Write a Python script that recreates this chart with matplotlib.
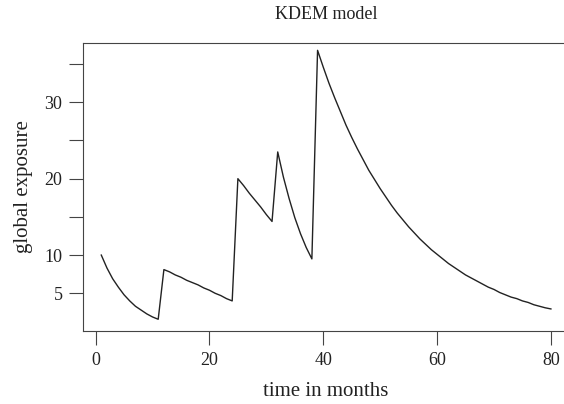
import matplotlib
matplotlib.use("Agg")
import matplotlib.pyplot as plt
from matplotlib.ticker import FixedLocator, NullFormatter

plt.rcParams['font.family'] = ['Liberation Serif', 'DejaVu Serif']

# time axis (months 1..80)
months = list(range(1, 81))

# global exposure, month by month
exposure = [
    10.0, 8.3, 6.9, 5.8, 4.8, 4.0, 3.3, 2.8, 2.3, 1.9, 1.6,          # 1-11
    8.1, 7.8, 7.4, 7.1, 6.7, 6.4, 6.1, 5.7, 5.4, 5.0, 4.7, 4.3, 4.0,  # 12-24
    20.0, 19.1, 18.1, 17.2, 16.3, 15.3, 14.4,                        # 25-31
    23.5, 20.2, 17.4, 14.9, 12.8, 11.0, 9.5,                         # 32-38
    36.8, 34.6, 32.5, 30.6, 28.8, 27.0, 25.4, 23.9, 22.5, 21.1,      # 39-48
    19.9, 18.7, 17.6, 16.5, 15.5, 14.6, 13.7, 12.9, 12.1, 11.4,      # 49-58
    10.7, 10.1, 9.5, 8.9, 8.4, 7.9, 7.4, 7.0, 6.6, 6.2,              # 59-68
    5.8, 5.5, 5.1, 4.8, 4.5, 4.3, 4.0, 3.8, 3.5, 3.3,                # 69-78
    3.1, 2.95,                                                       # 79-80
]

x_ticks = [0, 20, 40, 60, 80]
y_ticks = [5, 10, 20, 30]
y_minor = [15, 25, 35]

fig = plt.figure(figsize=(5.64, 4.04), dpi=100)
# axes run slightly past the right edge, like the cropped original
ax = fig.add_axes([0.1477, 0.1814, 0.861, 0.712])

ax.plot(months, exposure, color='#222222', linewidth=1.0)

ax.set_xlim(-2.16, 83.16)
ax.set_ylim(0.1, 37.75)

ax.set_xticks(x_ticks)
ax.yaxis.set_major_locator(FixedLocator(y_ticks))
ax.yaxis.set_minor_locator(FixedLocator(y_minor))
ax.yaxis.set_minor_formatter(NullFormatter())

for s in ['left', 'bottom', 'top']:
    ax.spines[s].set_color('#444444')
    ax.spines[s].set_linewidth(0.8)
ax.spines['right'].set_visible(False)

ax.tick_params(axis='both', which='both', length=10, width=0.8,
               color='#444444', labelsize=13, labelcolor='#222222')
ax.tick_params(axis='x', pad=5)
ax.tick_params(axis='y', pad=5)

ax.set_title('KDEM model', fontsize=13, color='#222222', pad=17)
ax.set_xlabel('time in months', fontsize=15, color='#222222', labelpad=10)
ax.set_ylabel('global exposure', fontsize=15, color='#222222', labelpad=8)

fig.savefig('out.png', dpi=100)
